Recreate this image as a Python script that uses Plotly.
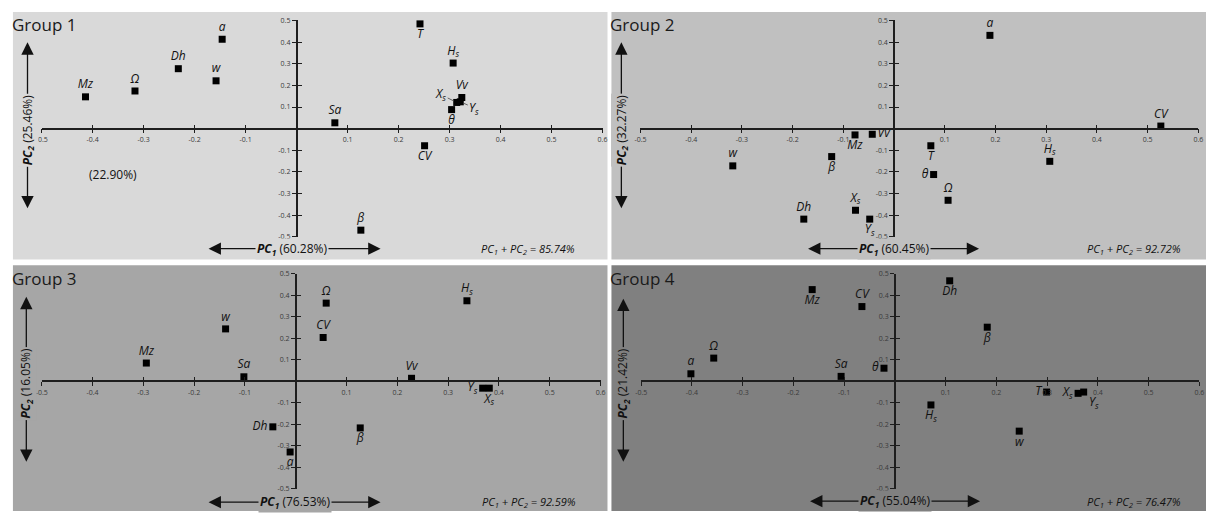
import plotly.graph_objects as go

W, H = 1211, 515

# ---------------- data ----------------
group_names = ["Group 1", "Group 2", "Group 3", "Group 4"]
pc1_share = ["60.28%", "60.45%", "76.53%", "55.04%"]
pc2_share = ["25.46%", "32.27%", "16.05%", "21.42%"]
pc_total = ["85.74%", "92.72%", "92.59%", "76.47%"]

x_ticks = [-0.5, -0.4, -0.3, -0.2, -0.1, 0.1, 0.2, 0.3, 0.4, 0.5, 0.6]
x_ticktext = ["-0.5", "-0.4", "-0.3", "-0.2", "-0.1", "0.1", "0.2", "0.3", "0.4", "0.5", "0.6"]
y_ticks = [-0.5, -0.4, -0.3, -0.2, -0.1, 0.1, 0.2, 0.3, 0.4, 0.5]
y_ticktext = ["-0.5", "-0.4", "-0.3", "-0.2", "-0.1", "0.1", "0.2", "0.3", "0.4", "0.5"]

g1_vars = ["a", "Dh", "w", "Ω", "Mz", "T", "Hs", "Vv", "Xs", "Ys", "θ", "Sa", "CV", "β"]
g1_pc1 = [-0.146, -0.232, -0.158, -0.317, -0.414, 0.242, 0.307, 0.324, 0.314, 0.321, 0.304, 0.075, 0.251, 0.126]
g1_pc2 = [0.413, 0.277, 0.221, 0.174, 0.147, 0.484, 0.303, 0.144, 0.121, 0.124, 0.088, 0.027, -0.079, -0.469]
g1_pos = ["top center", "top center", "top center", "top center", "top center", "bottom center",
          "top center", "top center", "leader left", "leader right", "bottom center", "top center",
          "bottom center", "top center"]

g2_vars = ["w", "β", "Mz", "Vv", "Dh", "Xs", "Ys", "a", "CV", "T", "Hs", "θ", "Ω", "Sa"]
g2_pc1 = [-0.318, -0.123, -0.077, -0.043, -0.178, -0.076, -0.048, 0.189, 0.526, 0.0725, 0.307, 0.078, 0.1065, 0.608]
g2_pc2 = [-0.172, -0.129, -0.029, -0.026, -0.418, -0.377, -0.418, 0.431, 0.012, -0.079, -0.151, -0.212, -0.331, -0.265]
g2_pos = ["top center", "bottom center", "bottom center", "middle right", "top center", "top center",
          "bottom center", "top center", "top center", "bottom center", "top center", "middle left",
          "top center", "middle left"]

g3_vars = ["w", "Mz", "Sa", "Dh", "a", "T", "Ω", "CV", "Hs", "Vv", "Ys", "Xs", "β", "θ"]
g3_pc1 = [-0.138, -0.294, -0.102, -0.045, -0.011, 0.150, 0.060, 0.054, 0.337, 0.228, 0.368, 0.381, 0.127, 0.606]
g3_pc2 = [0.244, 0.085, 0.021, -0.212, -0.329, 0.527, 0.364, 0.204, 0.375, 0.014, -0.032, -0.032, -0.217, -0.238]
g3_pos = ["top center", "top center", "top center", "middle left", "bottom center", "bottom center",
          "top center", "top center", "top center", "top center", "middle left", "bottom center",
          "bottom center", "top center"]

g4_vars = ["Mz", "CV", "Ω", "a", "Sa", "θ", "Vv", "Dh", "β", "Hs", "w", "T", "Xs", "Ys"]
g4_pc1 = [-0.163, -0.065, -0.357, -0.402, -0.106, -0.0215, 0.356, 0.108, 0.182, 0.071, 0.245, 0.299, 0.361, 0.372]
g4_pc2 = [0.427, 0.348, 0.108, 0.035, 0.023, 0.061, 0.523, 0.468, 0.252, -0.110, -0.232, -0.050, -0.056, -0.050]
g4_pos = ["bottom center", "top center", "top center", "top center", "top center", "middle left",
          "bottom center", "bottom center", "bottom center", "bottom center", "bottom center",
          "middle left", "middle left", "bottom right"]

groups = [
    (g1_vars, g1_pc1, g1_pc2, g1_pos),
    (g2_vars, g2_pc1, g2_pc2, g2_pos),
    (g3_vars, g3_pc1, g3_pc2, g3_pos),
    (g4_vars, g4_pc1, g4_pc2, g4_pos),
]

# ---------------- layout geometry (pixels) ----------------
panels_px = [(7, 607, 7, 259), (611, 1211, 7, 259), (7, 607, 265, 515), (611, 1211, 265, 515)]
xaxis_px = [(36, 602), (640.3, 1203.3), (36, 600), (641, 1204.3)]
yaxis_px = [(15.7, 236), (15.7, 236), (273.7, 492.3), (273.7, 492.3)]
panel_colors = ["#d9d9d9", "#c0c0c0", "#a6a6a6", "#808080"]

v_arrow_x = [21.7, 621, 20.5, 623]
v_arrow_top = [38, 38, 297, 299]
v_arrow_bot = [214, 214, 472, 472]
v_label_y = [128, 127, 385, 385]
h_arrow_y = [248, 248, 506, 505]
h_arrow_left = [203, 808, 203, 810]
h_arrow_right = [378, 982, 378, 983]
h_label_x = [289, 896, 292, 897]
sum_label = [(527, 248), (1138, 248), (528, 506), (1138, 506)]
title_pos = [(4, 20), (608, 20), (4, 278), (608, 278)]

FONT = "Open Sans"
AX_COL = "#1e1e1e"


def px2x(px):
    return px / W


def py2y(py):
    return 1 - py / H


def fmt(name):
    if name in ("Hs", "Xs", "Ys"):
        name = name[0] + "<sub>s</sub>"
    return "<i>" + name + "</i>"


fig = go.Figure()
layout = dict(
    width=W, height=H, margin=dict(l=0, r=0, t=0, b=0),
    paper_bgcolor="white", plot_bgcolor="rgba(0,0,0,0)",
    showlegend=False, shapes=[], annotations=[],
)

xr = [min(x_ticks), max(x_ticks)]
yr = [min(y_ticks), max(y_ticks)]

for i in range(4):
    n = i + 1
    m = i + 5
    px0, px1, py0, py1 = panels_px[i]
    layout["shapes"].append(dict(
        type="rect", xref="paper", yref="paper", layer="below",
        x0=px2x(px0), x1=px2x(px1), y0=py2y(py1), y1=py2y(py0),
        fillcolor=panel_colors[i], line=dict(width=0)))

    xd = [px2x(xaxis_px[i][0]), px2x(xaxis_px[i][1])]
    yd = [py2y(yaxis_px[i][1]), py2y(yaxis_px[i][0])]
    xpos = yd[0] + (0 - yr[0]) / (yr[1] - yr[0]) * (yd[1] - yd[0])
    ypos = xd[0] + (0 - xr[0]) / (xr[1] - xr[0]) * (xd[1] - xd[0])

    common_x = dict(range=xr, domain=xd, anchor="free", position=xpos, tickvals=x_ticks,
                    showgrid=False, zeroline=False, fixedrange=True, tickwidth=1.2,
                    tickcolor=AX_COL, ticklen=4)
    common_y = dict(range=yr, domain=yd, anchor="free", position=ypos, tickvals=y_ticks,
                    showgrid=False, zeroline=False, fixedrange=True, tickwidth=1.2,
                    tickcolor=AX_COL, ticklen=4)
    layout[f"xaxis{n}"] = dict(common_x, ticks="outside", ticktext=x_ticktext, showline=True,
                               linecolor=AX_COL, linewidth=1.6,
                               tickfont=dict(family=FONT, size=7, color="#3a3a3a"))
    layout[f"yaxis{n}"] = dict(common_y, ticks="outside", ticktext=y_ticktext, showline=True,
                               linecolor=AX_COL, linewidth=1.6,
                               tickfont=dict(family=FONT, size=7, color="#3a3a3a"))
    # overlay axes: inside ticks so tick marks cross the axis lines
    layout[f"xaxis{m}"] = dict(common_x, overlaying=f"x{n}", ticks="inside",
                               showticklabels=False, showline=False)
    layout[f"yaxis{m}"] = dict(common_y, overlaying=f"y{n}", ticks="inside",
                               showticklabels=False, showline=False)
    fig.add_trace(go.Scatter(x=[None], y=[None], xaxis=f"x{m}", yaxis=f"y{m}",
                             mode="markers", hoverinfo="skip", showlegend=False))

    names, xs, ys, pos = groups[i]
    texts = []
    tpos = []
    for nm, xv, yv, p in zip(names, xs, ys, pos):
        if p.startswith("leader"):
            texts.append("")
            tpos.append("top center")
            left = p.endswith("left")
            layout["annotations"].append(dict(
                x=xv, y=yv, xref=f"x{n}", yref=f"y{n}", text=fmt(nm),
                showarrow=True, arrowhead=0, arrowwidth=0.8, arrowcolor="#444",
                ax=-16 if left else 14, ay=-8 if left else 6, standoff=3,
                font=dict(family=FONT, size=12, color="#111")))
        else:
            texts.append(fmt(nm))
            tpos.append(p)
    fig.add_trace(go.Scatter(
        x=xs, y=ys, xaxis=f"x{n}", yaxis=f"y{n}", mode="markers+text",
        text=texts, textposition=tpos, cliponaxis=False,
        marker=dict(symbol="square", size=7, color="black", line=dict(width=0)),
        textfont=dict(family=FONT, size=12, color="#111"),
        hoverinfo="skip", showlegend=False))

    # double-headed arrows
    arrow_common = dict(text=" ", showarrow=True, arrowhead=2, startarrowhead=2,
                        arrowside="end+start", arrowsize=1.9, startarrowsize=1.9,
                        arrowwidth=1.3, arrowcolor="#111", xref="paper", yref="paper",
                        xanchor="center", yanchor="middle",
                        standoff=0, startstandoff=0)
    layout["annotations"].append(dict(
        arrow_common, x=px2x(v_arrow_x[i]), y=py2y(v_arrow_top[i]),
        ax=0, ay=v_arrow_bot[i] - v_arrow_top[i]))
    layout["annotations"].append(dict(
        arrow_common, x=px2x(h_arrow_right[i]), y=py2y(h_arrow_y[i]),
        ax=h_arrow_left[i] - h_arrow_right[i], ay=0))

    # axis labels
    layout["annotations"].append(dict(
        x=px2x(v_arrow_x[i]), y=py2y(v_label_y[i]), xref="paper", yref="paper",
        xanchor="center", yanchor="middle",
        text=f"<b><i>PC<sub>2</sub></i></b> ({pc2_share[i]})", textangle=-90,
        showarrow=False, bgcolor=panel_colors[i], borderpad=1,
        font=dict(family=FONT, size=12, color="#111")))
    layout["annotations"].append(dict(
        x=px2x(h_label_x[i]), y=py2y(h_arrow_y[i]), xref="paper", yref="paper",
        xanchor="center", yanchor="middle",
        text=f"<b><i>PC<sub>1</sub></i></b> ({pc1_share[i]})",
        showarrow=False, bgcolor=panel_colors[i], borderpad=1,
        font=dict(family=FONT, size=12, color="#111")))
    layout["annotations"].append(dict(
        x=px2x(sum_label[i][0]), y=py2y(sum_label[i][1]), xref="paper", yref="paper",
        xanchor="center", yanchor="middle",
        text=f"<i>PC<sub>1</sub> + PC<sub>2</sub> = {pc_total[i]}</i>",
        showarrow=False, font=dict(family=FONT, size=11, color="#111")))
    layout["annotations"].append(dict(
        x=px2x(title_pos[i][0]), y=py2y(title_pos[i][1]), xref="paper", yref="paper",
        xanchor="left", yanchor="middle", text=group_names[i], showarrow=False,
        font=dict(family=FONT, size=17, color="#1a1a1a")))

# stray percentage label present in the first panel
layout["annotations"].append(dict(
    x=px2x(108), y=py2y(173), xref="paper", yref="paper", text="(22.90%)",
    xanchor="center", yanchor="middle",
    showarrow=False, font=dict(family=FONT, size=12, color="#111")))

fig.update_layout(**layout)
fig.write_html("out.html")
